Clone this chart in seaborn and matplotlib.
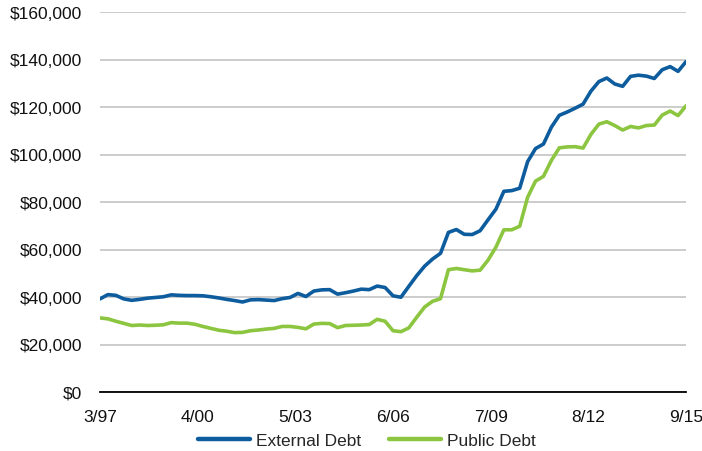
#
#   external vs public debt, quarterly 3/97 - 9/15
#

import matplotlib.pyplot as plt
import matplotlib.ticker as mticker
import pandas as pd
import seaborn as sns

# month offsets from 3/97 (one point per quarter)
months = list(range(0, 223, 3))

external_debt = [
    39.2, 41.0, 40.7, 39.2, 38.6, 39.0, 39.5, 39.8, 40.1, 40.9,
    40.7, 40.6, 40.6, 40.5, 40.1, 39.6, 39.0, 38.5, 37.9, 38.8,
    38.9, 38.7, 38.5, 39.3, 39.8, 41.5, 40.2, 42.5, 43.0, 43.1,
    41.2, 41.8, 42.5, 43.3, 43.1, 44.6, 44.0, 40.5, 39.9, 44.5,
    49.0, 53.0, 56.0, 58.4, 67.2, 68.4, 66.4, 66.3, 67.9, 72.5,
    77.0, 84.5, 84.8, 85.8, 97.0, 102.5, 104.4, 111.5, 116.5, 117.9,
    119.5, 121.2, 126.7, 130.7, 132.2, 129.7, 128.7, 132.9, 133.4, 133.0,
    132.0, 135.7, 137.0, 135.0, 139.1,
]

public_debt = [
    31.2, 30.8, 29.8, 28.9, 28.0, 28.2, 28.0, 28.1, 28.3, 29.2,
    29.0, 29.0, 28.5, 27.6, 26.8, 26.0, 25.6, 25.0, 25.1, 25.8,
    26.1, 26.5, 26.8, 27.6, 27.6, 27.2, 26.6, 28.6, 28.9, 28.8,
    27.1, 28.0, 28.1, 28.2, 28.4, 30.6, 29.8, 25.8, 25.4, 27.0,
    31.5, 35.8, 38.2, 39.3, 51.5, 52.0, 51.5, 51.0, 51.3, 55.5,
    61.0, 68.3, 68.3, 69.8, 82.0, 88.8, 90.8, 97.5, 102.8, 103.2,
    103.3, 102.7, 108.5, 112.8, 113.8, 112.2, 110.3, 111.8, 111.2, 112.2,
    112.4, 116.6, 118.3, 116.4, 120.5,
]

tick_months = [0, 37, 74, 111, 148, 185, 222]
tick_labels = ["3/97", "4/00", "5/03", "6/06", "7/09", "8/12", "9/15"]

series_names = ["External Debt", "Public Debt"]
colors = ["#0d5c9e", "#8cc540"]

df = pd.DataFrame({
    "month": months * 2,
    "value": [v * 1000 for v in external_debt] + [v * 1000 for v in public_debt],
    "series": [series_names[0]] * len(months) + [series_names[1]] * len(months),
})

sns.set_style("white")
plt.rcParams['font.family'] = ['Liberation Sans', 'DejaVu Sans']

fig = plt.figure(figsize=(7.02, 4.52), dpi=100)
ax = fig.add_axes([100 / 702, 1 - 393 / 452, 586 / 702, 380 / 452])

sns.lineplot(data=df, x="month", y="value", hue="series", palette=colors,
             linewidth=2.6, ax=ax, legend=False)

ax.set_xlim(0, 222)
ax.set_ylim(0, 160000)
ax.set_yticks(range(0, 160001, 20000))
ax.yaxis.set_major_formatter(mticker.FuncFormatter(lambda v, p: f"${v:,.0f}"))
ax.set_xticks(tick_months)
ax.set_xticklabels(tick_labels)
ax.tick_params(axis="both", length=0, labelsize=12.5, colors="#111111")
ax.tick_params(axis="y", pad=13)
ax.tick_params(axis="x", pad=12)

ax.grid(axis="y", color="#c8c8c8", linewidth=1.3)
ax.set_axisbelow(True)
for side in ["top", "right", "left"]:
    ax.spines[side].set_visible(False)
ax.spines["bottom"].set_color("black")
ax.spines["bottom"].set_linewidth(1.3)
ax.set_xlabel("")
ax.set_ylabel("")

handles = [plt.Line2D([], [], color=c, linewidth=3.2) for c in colors]
fig.legend(handles, series_names, loc="center", bbox_to_anchor=(367 / 702, 1 - 441 / 452),
           ncol=2, frameon=False, fontsize=12.5, handlelength=3.0,
           handletextpad=0.35, columnspacing=1.6)

fig.savefig("out.png", dpi=100)
